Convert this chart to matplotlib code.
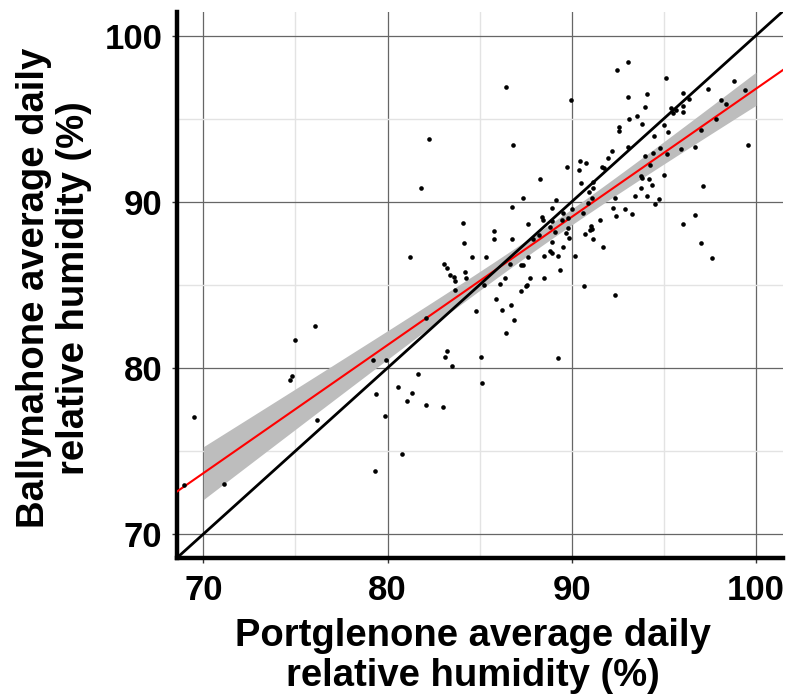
import matplotlib
matplotlib.use('Agg')
import matplotlib.pyplot as plt
import numpy as np

# daily mean relative humidity (%)
portglenone = [
    86.45, 82.27, 81.84, 86.83, 89.94, 92.46, 93.04, 95.12, 93.04, 94.11,
    96.02, 97.41, 98.82, 99.42, 96.36, 98.09, 98.35, 94.00, 93.53, 93.10,
    95.37, 95.52, 96.02, 96.02, 95.66, 93.83, 92.55, 92.55, 95.03, 95.20,
    94.48, 97.82, 97.04, 99.55, 96.68, 95.95, 94.78, 94.43, 95.18, 94.00,
    93.04, 92.16, 91.95, 91.63, 91.73, 94.24, 95.03, 93.75, 93.81, 94.22,
    94.37, 93.75, 93.41, 94.11, 94.73, 94.50, 97.15, 96.68, 96.04, 97.04,
    97.60, 89.72, 90.45, 90.75, 90.40, 90.49, 91.13, 91.18, 90.94, 91.11,
    92.36, 88.27, 87.37, 86.77, 89.16, 90.04, 90.62, 90.86, 92.23, 92.38,
    92.91, 93.28, 88.91, 89.51, 88.39, 88.44, 88.91, 89.49, 89.81, 91.56,
    91.07, 91.11, 91.00, 90.73, 91.13, 91.69, 87.64, 88.20, 88.82, 89.08,
    89.70, 89.81, 89.83, 88.95, 89.53, 88.84, 88.91, 88.52, 89.25, 90.19,
    89.34, 87.88, 86.77, 85.78, 85.78, 84.07, 84.15, 84.60, 85.33, 87.60,
    86.66, 87.26, 87.34, 81.24, 83.08, 83.23, 84.18, 83.38, 83.60, 84.28,
    86.40, 87.73, 88.50, 83.64, 83.68, 85.25, 86.12, 85.89, 86.23, 86.72,
    86.87, 86.42, 84.80, 87.24, 87.52, 87.58, 82.10, 83.10, 83.23, 83.51,
    85.07, 85.14, 89.27, 90.66, 92.36, 76.08, 74.97, 74.73, 74.82, 79.23,
    79.89, 81.63, 80.56, 79.40, 81.35, 81.05, 82.10, 83.00, 79.85, 76.19,
    69.49, 80.81, 79.34, 68.97, 71.13,
]
ballynahone = [
    96.93, 93.79, 90.84, 93.39, 96.15, 97.90, 98.42, 97.45, 96.29, 96.49,
    96.53, 96.81, 97.25, 96.73, 96.19, 96.13, 95.89, 95.69, 95.19, 94.99,
    95.63, 95.33, 95.79, 95.43, 95.54, 94.65, 94.49, 94.23, 94.63, 94.17,
    93.93, 94.99, 94.31, 93.43, 93.31, 93.19, 93.23, 92.95, 92.87, 92.75,
    93.27, 93.03, 92.63, 92.08, 92.02, 92.20, 91.64, 91.52, 91.44, 91.38,
    91.00, 90.84, 90.36, 90.36, 90.16, 89.88, 90.92, 89.20, 88.68, 87.49,
    86.59, 92.12, 92.46, 92.34, 91.90, 91.12, 91.20, 90.80, 90.60, 90.20,
    90.20, 91.36, 90.20, 89.68, 90.08, 89.56, 89.34, 89.92, 89.60, 89.16,
    89.56, 89.28, 89.60, 89.32, 89.10, 88.92, 88.82, 88.92, 89.02, 88.88,
    88.52, 88.36, 88.32, 88.06, 87.74, 87.25, 88.66, 87.99, 88.46, 88.16,
    88.12, 88.44, 87.80, 87.56, 87.25, 87.03, 86.91, 86.73, 86.75, 86.75,
    85.87, 87.78, 87.78, 88.24, 87.74, 88.74, 87.54, 86.69, 86.65, 86.69,
    86.27, 86.19, 86.21, 86.69, 86.27, 86.03, 85.75, 85.59, 85.47, 85.41,
    85.41, 85.41, 85.39, 85.26, 84.68, 85.00, 85.08, 84.15, 83.47, 83.81,
    82.89, 82.08, 83.43, 84.60, 84.90, 84.98, 83.01, 80.67, 81.00, 80.11,
    80.63, 79.12, 80.61, 84.92, 84.36, 82.53, 81.66, 79.25, 79.53, 80.45,
    80.49, 79.65, 78.84, 78.44, 78.48, 78.00, 77.76, 77.64, 77.09, 76.89,
    77.05, 74.84, 73.77, 72.93, 73.01,
]

x = np.array(portglenone)
y = np.array(ballynahone)

# linear fit with 95% confidence band
slope, intercept = np.polyfit(x, y, 1)
n = len(x)
resid = y - (slope * x + intercept)
s = np.sqrt(np.sum(resid ** 2) / (n - 2))
xbar = x.mean()
sxx = np.sum((x - xbar) ** 2)
t95 = 1.973

xlim = (68.57, 101.47)
ylim = (68.56, 101.42)

fig = plt.figure(figsize=(7.89, 7.0), dpi=100)
ax = fig.add_axes([177 / 789, 142 / 700, 606 / 789, 546 / 700])

xb = np.linspace(70, 100, 200)
se = s * np.sqrt(1 / n + (xb - xbar) ** 2 / sxx)
yb = slope * xb + intercept
ax.fill_between(xb, yb - t95 * se, yb + t95 * se, color='#bdbdbd', lw=0, zorder=2)

xl = np.array(xlim)
ax.plot(xl, slope * xl + intercept, color='#ff0000', lw=1.5, zorder=3)
ax.plot(xl, xl, color='black', lw=2.0, zorder=3)

ax.scatter(x, y, s=11, color='black', lw=0, zorder=4)

ax.set_xlim(xlim)
ax.set_ylim(ylim)
ax.set_xticks([70, 80, 90, 100])
ax.set_yticks([70, 80, 90, 100])
ax.set_xticks([75, 85, 95], minor=True)
ax.set_yticks([75, 85, 95], minor=True)
ax.grid(which='major', color='#666666', lw=0.9, zorder=0)
ax.grid(which='minor', color='#e3e3e3', lw=1.0, zorder=0)
ax.set_axisbelow(True)

for side in ['top', 'right']:
    ax.spines[side].set_visible(False)
for side in ['left', 'bottom']:
    ax.spines[side].set_linewidth(3.2)
    ax.spines[side].set_color('black')

ax.tick_params(which='major', length=3.5, width=1, color='#333333')
ax.tick_params(axis='x', which='major', pad=8)
ax.tick_params(axis='y', which='major', pad=7)
ax.tick_params(which='minor', length=0)
for lab in ax.get_xticklabels() + ax.get_yticklabels():
    lab.set_fontfamily('Liberation Sans')
    lab.set_fontweight('bold')
    lab.set_fontsize(25)
    lab.set_color('black')

fig.text(473 / 789, 1 - 656 / 700, 'Portglenone average daily\nrelative humidity (%)',
         ha='center', va='center', fontsize=27.5, fontweight='bold',
         family='Liberation Sans', linespacing=1.12)
fig.text(54 / 789, 1 - 288 / 700, 'Ballynahone average daily\nrelative humidity (%)',
         ha='center', va='center', rotation=90, fontsize=27.5, fontweight='bold',
         family='Liberation Sans', linespacing=1.12)

fig.savefig('out.png', dpi=100)
